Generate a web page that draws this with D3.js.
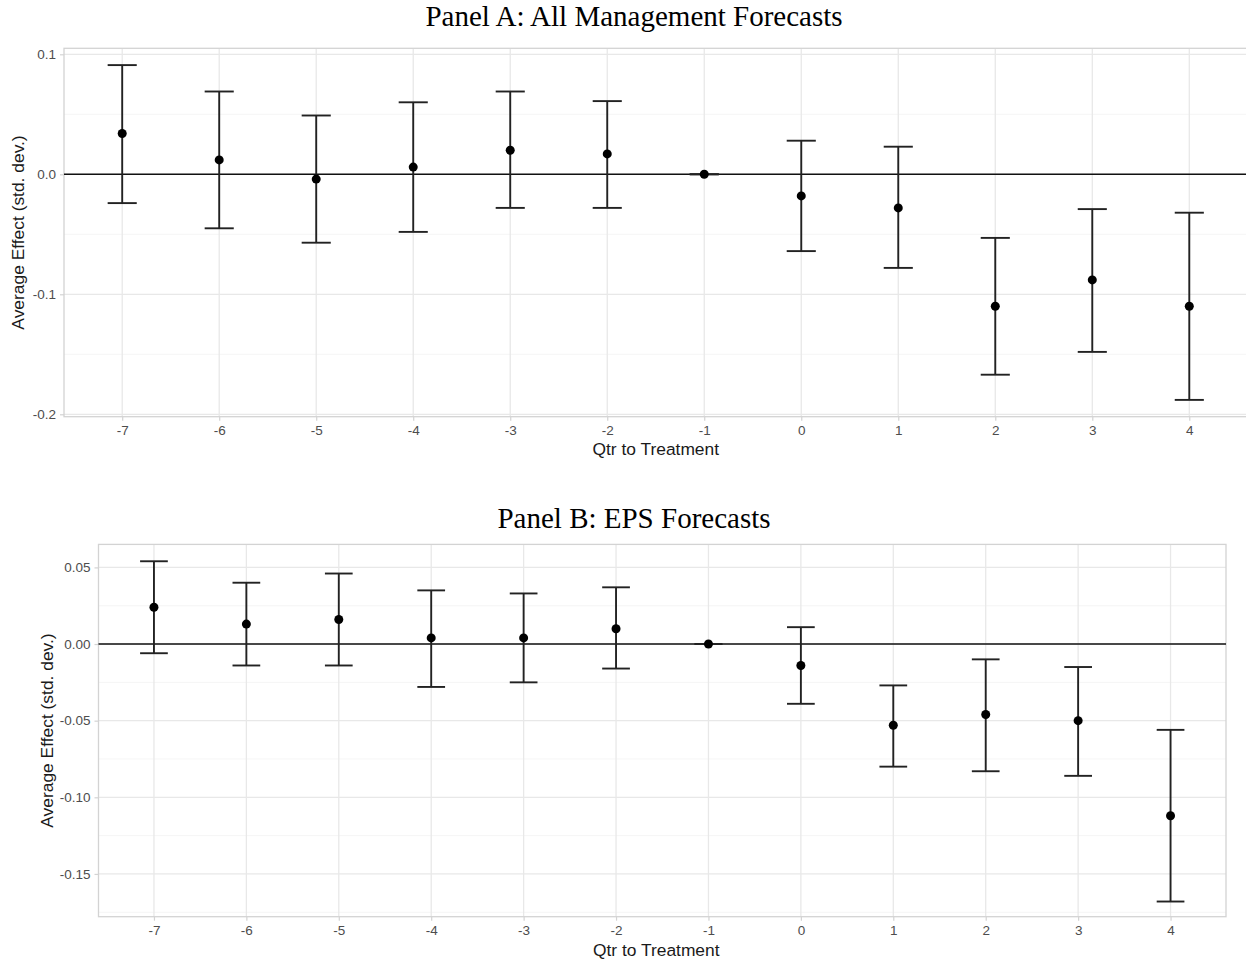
<!DOCTYPE html>
<html>
<head>
<meta charset="utf-8">
<script src="https://cdn.jsdelivr.net/npm/d3@7"></script>
<style>
  body { margin: 0; background: #fff; }
  svg { display: block; }
  .tick_lbl { font-family: "Liberation Sans", Arial, sans-serif; font-size: 13.5px; fill: #4d4d4d; }
  .axis_title { font-family: "Liberation Sans", Arial, sans-serif; font-size: 17.4px; fill: #1a1a1a; }
  .panel_title { font-family: "Liberation Serif", "Times New Roman", serif; font-size: 29px; fill: #000; }
</style>
</head>
<body>
<svg id="chart"></svg>
<script>
// quarters relative to treatment (x categories)
var qtrs = [-7, -6, -5, -4, -3, -2, -1, 0, 1, 2, 3, 4];

// Panel A: All Management Forecasts
var a_est = [0.034, 0.012, -0.004, 0.006, 0.020, 0.017, 0, -0.018, -0.028, -0.110, -0.088, -0.110];
var a_lo  = [-0.024, -0.045, -0.057, -0.048, -0.028, -0.028, 0, -0.064, -0.078, -0.167, -0.148, -0.188];
var a_hi  = [0.091, 0.069, 0.049, 0.060, 0.069, 0.061, 0, 0.028, 0.023, -0.053, -0.029, -0.032];
var a_major = [0.1, 0.0, -0.1, -0.2];
var a_minor = [0.05, -0.05, -0.15];

// Panel B: EPS Forecasts
var b_est = [0.024, 0.013, 0.016, 0.004, 0.004, 0.010, 0, -0.014, -0.053, -0.046, -0.050, -0.112];
var b_lo  = [-0.006, -0.014, -0.014, -0.028, -0.025, -0.016, 0, -0.039, -0.080, -0.083, -0.086, -0.168];
var b_hi  = [0.054, 0.040, 0.046, 0.035, 0.033, 0.037, 0, 0.011, -0.027, -0.010, -0.015, -0.056];
var b_major = [0.05, 0.0, -0.05, -0.10, -0.15];
var b_minor = [0.025, -0.025, -0.075, -0.125, -0.175];

var svg_w = 1246, svg_h = 961;
var svg = d3.select("#chart").attr("width", svg_w).attr("height", svg_h);

// ggplot style number labels (plain hyphen)
function fmt(p){
  var f = d3.format("." + p + "f");
  return function(v){ return f(v).replace("\u2212", "-"); };
}

function make_rows(est, lo, hi){
  return qtrs.map(function(q, i){ return {q: q, est: est[i], lo: lo[i], hi: hi[i]}; });
}

// draw one panel
function draw_panel(cfg){
  var g = svg.append("g");
  var x = d3.scalePoint().domain(qtrs).range([cfg.left, cfg.right]).padding(0.6);
  var y = d3.scaleLinear().domain(cfg.ydom).range([cfg.bottom, cfg.top]);
  var pw = cfg.right - cfg.left, ph = cfg.bottom - cfg.top;

  // minor grid
  g.append("g").selectAll("line").data(cfg.minor).enter().append("line")
    .attr("x1", cfg.left).attr("x2", cfg.right)
    .attr("y1", function(d){ return y(d); }).attr("y2", function(d){ return y(d); })
    .attr("stroke", "#f2f2f2").attr("stroke-width", 0.8);
  // major grid
  g.append("g").selectAll("line").data(cfg.major).enter().append("line")
    .attr("x1", cfg.left).attr("x2", cfg.right)
    .attr("y1", function(d){ return y(d); }).attr("y2", function(d){ return y(d); })
    .attr("stroke", "#e8e8e8").attr("stroke-width", 1.3);
  g.append("g").selectAll("line").data(qtrs).enter().append("line")
    .attr("x1", function(d){ return x(d); }).attr("x2", function(d){ return x(d); })
    .attr("y1", cfg.top).attr("y2", cfg.bottom)
    .attr("stroke", "#e8e8e8").attr("stroke-width", 1.3);

  // panel border
  g.append("rect").attr("x", cfg.left).attr("y", cfg.top)
    .attr("width", pw).attr("height", ph)
    .attr("fill", "none").attr("stroke", "#d3d3d3").attr("stroke-width", 1.3);

  // axes
  var ya = g.append("g").attr("transform", "translate(" + cfg.left + ",0)")
    .call(d3.axisLeft(y).tickValues(cfg.major).tickFormat(fmt(cfg.prec)).tickSize(4).tickPadding(4));
  var xa = g.append("g").attr("transform", "translate(0," + cfg.bottom + ")")
    .call(d3.axisBottom(x).tickSize(4).tickPadding(5));
  [ya, xa].forEach(function(a){
    a.select(".domain").remove();
    a.selectAll(".tick line").attr("stroke", "#d3d3d3").attr("stroke-width", 1.2);
    a.selectAll(".tick text").attr("class", "tick_lbl").attr("font-size", null).attr("font-family", null).attr("fill", null);
  });
  ya.attr("font-size", null).attr("font-family", null);
  xa.attr("font-size", null).attr("font-family", null);

  // zero reference line
  g.append("line").attr("x1", cfg.left).attr("x2", cfg.right)
    .attr("y1", y(0)).attr("y2", y(0))
    .attr("stroke", "#111").attr("stroke-width", 1.6);

  // error bars
  var rows = make_rows(cfg.est, cfg.lo, cfg.hi);
  var half = x.step() * 0.15;
  var eb = g.append("g").attr("stroke", "#222").attr("stroke-width", 1.9);
  eb.selectAll(".v").data(rows).enter().append("line").attr("class", "v")
    .attr("x1", function(d){ return x(d.q); }).attr("x2", function(d){ return x(d.q); })
    .attr("y1", function(d){ return y(d.lo); }).attr("y2", function(d){ return y(d.hi); });
  eb.selectAll(".hi").data(rows).enter().append("line").attr("class", "hi")
    .attr("x1", function(d){ return x(d.q) - half; }).attr("x2", function(d){ return x(d.q) + half; })
    .attr("y1", function(d){ return y(d.hi); }).attr("y2", function(d){ return y(d.hi); });
  eb.selectAll(".lo").data(rows).enter().append("line").attr("class", "lo")
    .attr("x1", function(d){ return x(d.q) - half; }).attr("x2", function(d){ return x(d.q) + half; })
    .attr("y1", function(d){ return y(d.lo); }).attr("y2", function(d){ return y(d.lo); });

  // point estimates
  g.append("g").selectAll("circle").data(rows).enter().append("circle")
    .attr("cx", function(d){ return x(d.q); }).attr("cy", function(d){ return y(d.est); })
    .attr("r", 4.5).attr("fill", "#000");

  // titles
  g.append("text").attr("class", "panel_title").attr("x", 634).attr("y", cfg.title_y)
    .attr("text-anchor", "middle").text(cfg.title);
  g.append("text").attr("class", "axis_title").attr("x", (cfg.left + cfg.right) / 2 - (cfg.left > 80 ? 6 : 0))
    .attr("y", cfg.xlab_y).attr("text-anchor", "middle").text("Qtr to Treatment");
  g.append("text").attr("class", "axis_title")
    .attr("transform", "translate(" + cfg.ylab_x + "," + ((cfg.top + cfg.bottom) / 2) + ") rotate(-90)")
    .attr("text-anchor", "middle").text("Average Effect (std. dev.)");
}

draw_panel({
  title: "Panel A: All Management Forecasts", title_y: 26,
  left: 64, right: 1247.5, top: 48.3, bottom: 416.7,
  ydom: [-0.202, 0.105], major: a_major, minor: a_minor, prec: 1,
  est: a_est, lo: a_lo, hi: a_hi, xlab_y: 455, ylab_x: 24
});
draw_panel({
  title: "Panel B: EPS Forecasts", title_y: 528,
  left: 98.5, right: 1226, top: 544.4, bottom: 916.7,
  ydom: [-0.1779, 0.065], major: b_major, minor: b_minor, prec: 2,
  est: b_est, lo: b_lo, hi: b_hi, xlab_y: 956, ylab_x: 53
});
</script>
</body>
</html>
